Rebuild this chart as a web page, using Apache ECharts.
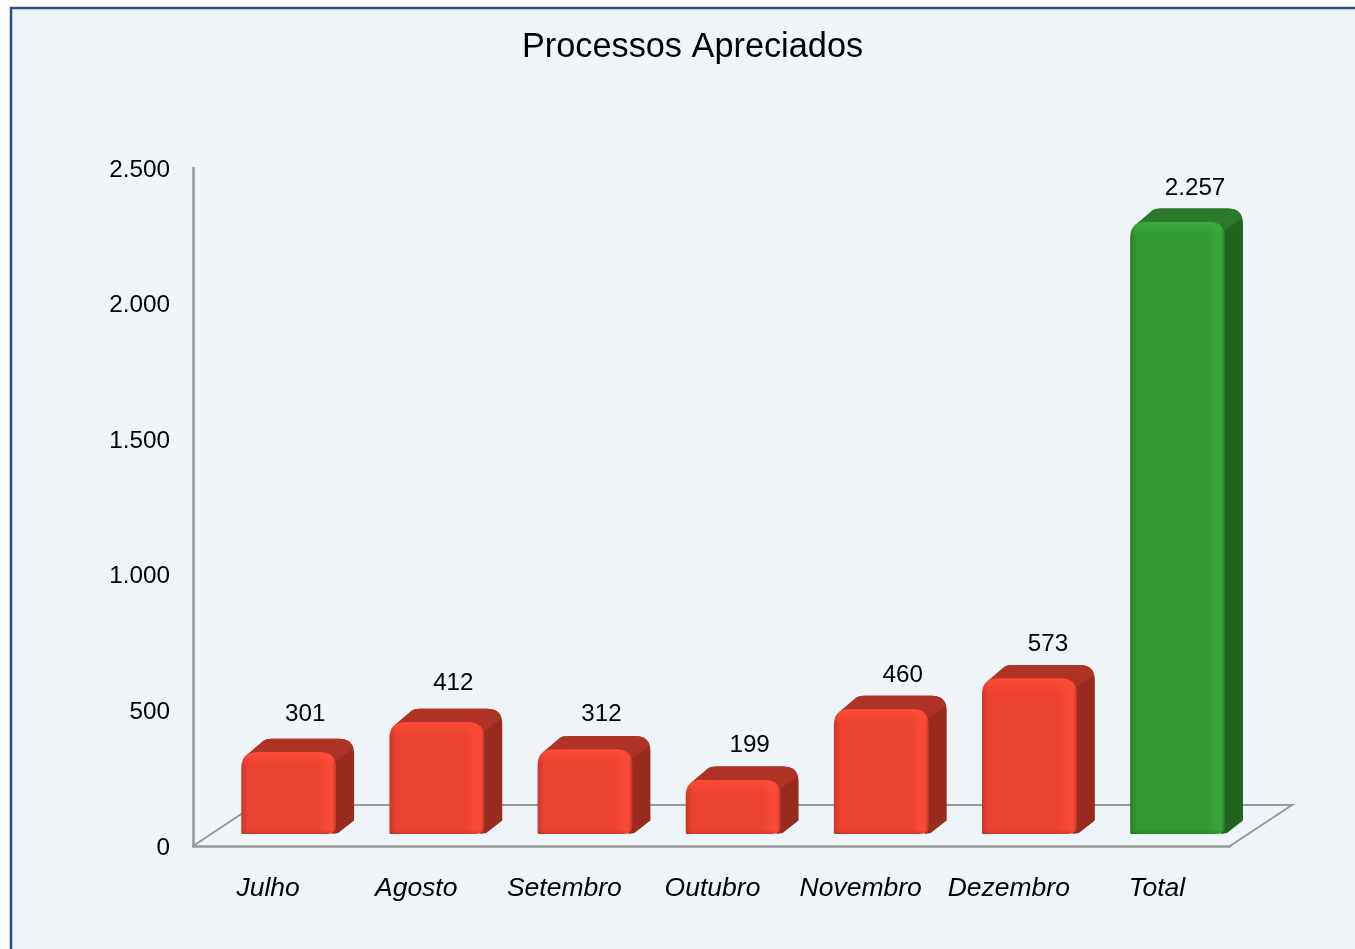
<!DOCTYPE html>
<html><head><meta charset="utf-8">
<style>html,body{margin:0;padding:0;background:#fff}#c{width:1355px;height:949px}</style>
<script src="https://cdn.jsdelivr.net/npm/echarts@6/dist/echarts.min.js"></script>
</head><body><div id="c"></div>
<script>
const titleText = 'Processos Apreciados';
const categories = ['Julho','Agosto','Setembro','Outubro','Novembro','Dezembro','Total'];
const values = [301,412,312,199,460,573,2257];
const yTicks = {min:0,max:2500,interval:500};
const redTheme = {front:'#ec4330',hi:'#f94a35',edge:'#c4382a',side:'#982b1e',top:'#ae3324',topHi:'rgba(255,76,54,0.95)',topHi0:'rgba(255,76,54,0)'};
const greenTheme = {front:'#339933',hi:'#37a437',edge:'#267c28',side:'#22641f',top:'#2b7a2b',topHi:'rgba(58,170,58,0.95)',topHi0:'rgba(58,170,58,0)'};
const labelShiftX = [0,0,0,0,5,2,1];
const labelShiftY = [-2,-3,1,1,2,2,2];
const fmt = v => String(v).replace(/\B(?=(\d{3})+$)/g,'.');
const FONT = '"Liberation Sans", Arial, sans-serif';
const chart = echarts.init(document.getElementById('c'),null,{renderer:'canvas'});

function barItem(params, api){
  const idx = api.value(0), val = api.value(1);
  const band = api.size([1,0])[0];
  const axisBase = api.coord([idx,0]);
  const top = api.coord([idx,val]);
  const t = idx === categories.length-1 ? greenTheme : redTheme;
  const w = band*0.64, dx = 18, dy = 13.5, lift = 12;
  const x0 = axisBase[0]-band/2+48.3, x1 = x0+w;
  const yB = axisBase[1]-lift, yT = top[1]-lift;
  const h = yB-yT, r = Math.min(16,h/2);
  const bx = x1+dx, by = yT-dy;
  const sil = `M${x1-4} ${yT+2} L${x0+22} ${by+2} Q${x0+25} ${by} ${x0+30} ${by} L${bx-15} ${by} Q${bx} ${by} ${bx} ${by+15} L${bx} ${yB-dy} L${x1+2} ${yB-1} L${x1-4} ${yB} Z`;
  const topFace = `M${x0+5} ${yT+3} L${x0+22} ${by+2} Q${x0+25} ${by} ${x0+30} ${by} L${bx-15} ${by} Q${bx-3} ${by} ${bx-1} ${by+10} L${x1-2} ${yT+10} L${x1-12} ${yT+2} Z`;
  const front = `M${x0} ${yT+r} Q${x0} ${yT} ${x0+r} ${yT} L${x1-r} ${yT} Q${x1} ${yT} ${x1} ${yT+r} L${x1} ${yB-7} Q${x1} ${yB} ${x1-9} ${yB} L${x0+1} ${yB} Q${x0} ${yB} ${x0} ${yB-2} Z`;
  const hGrad = new echarts.graphic.LinearGradient(0,0,1,0,[
    {offset:0,color:t.edge},{offset:0.07,color:t.front},{offset:0.82,color:t.front},
    {offset:0.9,color:t.hi},{offset:0.96,color:t.hi},{offset:1,color:t.edge}]);
  const s1 = Math.min(0.45,14/h);
  const vGrad = new echarts.graphic.LinearGradient(0,0,0,1,[
    {offset:0,color:t.topHi},{offset:s1,color:t.topHi0},
    {offset:Math.max(s1,1-4/h),color:'rgba(0,0,0,0)'},{offset:1,color:'rgba(0,0,0,0.14)'}]);
  return {type:'group',children:[
    {type:'path',shape:{pathData:sil},style:{fill:t.side}},
    {type:'path',shape:{pathData:topFace},style:{fill:t.top}},
    {type:'path',shape:{pathData:front},style:{fill:hGrad}},
    {type:'path',shape:{pathData:front},style:{fill:vGrad}},
    {type:'text',style:{x:(x0+x1)/2+16.5+labelShiftX[idx],y:yT-35+labelShiftY[idx]-1,text:fmt(val),fill:'#000',font:'24.2px '+FONT,align:'center',verticalAlign:'middle'}}
  ]};
}
function floorItem(params, api){
  const c = params.coordSys, dx = 62, dy = 41;
  const x0 = c.x, x1 = c.x+c.width, y0 = c.y+c.height;
  return {type:'polyline',shape:{points:[[x0,y0],[x0+dx,y0-dy],[x1+dx,y0-dy],[x1,y0]]},style:{stroke:'#999',lineWidth:2,fill:null}};
}
chart.setOption({
  animation:false,
  backgroundColor:'#ffffff',
  graphic:[{type:'rect',z:-100,silent:true,shape:{x:11,y:8,width:1400,height:1000},
    style:{fill:'#eff4f9',stroke:'#27507f',lineWidth:2.5}}],
  title:{text:titleText,left:687.5,top:26,textAlign:'center',
    textStyle:{fontFamily:FONT,fontSize:34.3,fontWeight:'normal',color:'#000'}},
  tooltip:{show:false},
  grid:{left:193,right:125,top:168,bottom:103,containLabel:false},
  xAxis:{type:'category',data:categories,
    axisTick:{show:false},
    axisLine:{lineStyle:{color:'#999',width:2.5}},
    axisLabel:{margin:29,interval:0,formatter:v=>`{c|${v}}`,
      rich:{c:{color:'#000',fontFamily:FONT,fontSize:26.5,fontStyle:'italic',padding:[0,0,0,2]}}}},
  yAxis:{type:'value',min:yTicks.min,max:yTicks.max,interval:yTicks.interval,
    splitLine:{show:false},axisTick:{show:false},
    axisLine:{show:true,lineStyle:{color:'#999',width:2.5}},
    axisLabel:{margin:23,formatter:v=>`{a|${fmt(v)}}`,
      rich:{a:{color:'#000',fontFamily:FONT,fontSize:24.3,padding:[4,0,0,0]}}}},
  series:[
    {type:'custom',coordinateSystem:'cartesian2d',clip:false,silent:true,z:1,renderItem:floorItem,data:[[0,0]],encode:{x:0,y:1}},
    {type:'custom',coordinateSystem:'cartesian2d',clip:false,silent:true,z:2,renderItem:barItem,
      data:values.map((v,i)=>[i,v]),encode:{x:0,y:1}}
  ]
});
</script></body></html>
